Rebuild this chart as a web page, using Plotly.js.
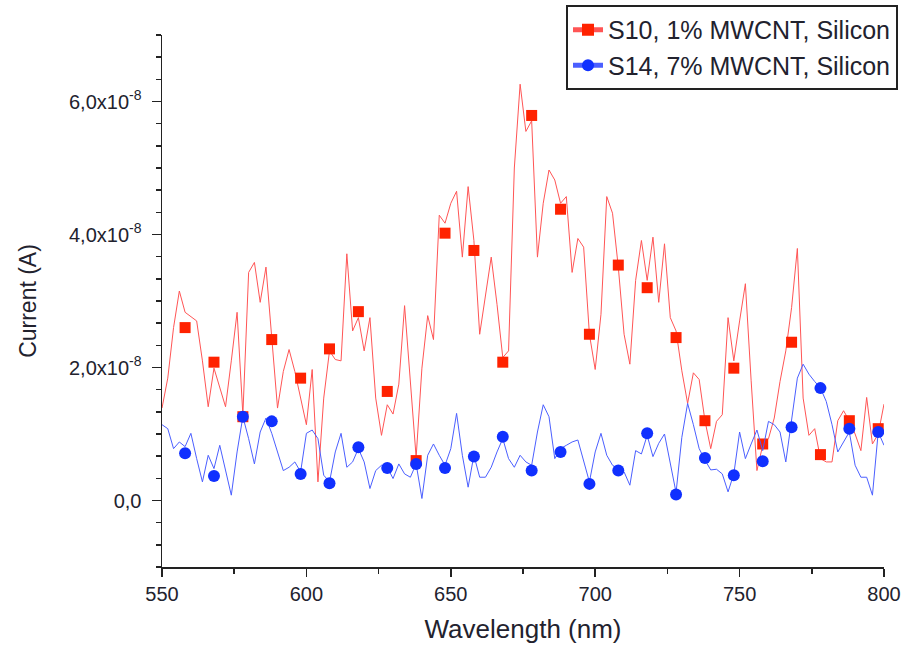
<!DOCTYPE html>
<html>
<head>
<meta charset="utf-8">
<script src="https://cdn.plot.ly/plotly-3.0.1.min.js"></script>
<style>html,body{margin:0;padding:0;background:#fff;}#chart{width:903px;height:651px;}</style>
</head>
<body>
<div id="chart"></div>
<script>
// Wavelength grid of the continuous traces (nm)
const wavelength = [
  550,552,554,556,558,560,562,564,566,568,
  570,572,574,576,578,580,582,584,586,588,
  590,592,594,596,598,600,602,604,606,608,
  610,612,614,616,618,620,622,624,626,628,
  630,632,634,636,638,640,642,644,646,648,
  650,652,654,656,658,660,662,664,666,668,
  670,672,674,676,678,680,682,684,686,688,
  690,692,694,696,698,700,702,704,706,708,
  710,712,714,716,718,720,722,724,726,728,
  730,732,734,736,738,740,742,744,746,748,
  750,752,754,756,758,760,762,764,766,768,
  770,772,774,776,778,780,782,784,786,788,
  790,792,794,796,798,800
];
// Current in units of 1e-8 A
const s10Line = [
  1.39,1.84,2.60,3.15,2.83,2.76,2.70,2.10,1.41,1.99,
  1.69,1.41,2.10,2.83,1.29,3.43,3.58,2.98,3.51,2.45,
  1.39,1.94,2.27,1.94,1.54,1.14,1.97,0.28,1.54,2.25,
  2.12,2.10,3.71,2.55,2.75,2.25,2.75,1.54,0.98,1.44,
  1.30,1.75,2.93,1.84,0.65,1.99,2.78,2.42,4.29,4.17,
  4.47,4.65,3.66,4.72,3.91,2.50,3.05,3.66,2.95,2.15,
  2.25,5.00,6.26,5.55,5.71,3.66,4.47,4.97,4.82,4.47,
  4.57,3.43,3.94,3.81,2.50,1.97,2.80,4.57,4.32,3.51,
  2.50,2.05,3.31,3.91,3.31,3.96,2.98,3.86,2.75,2.55,
  1.95,1.46,1.92,1.82,1.20,0.78,1.19,1.29,2.75,2.10,
  2.70,3.26,1.80,0.45,0.83,0.93,1.24,1.79,2.25,2.90,
  3.79,1.54,0.98,1.08,0.63,0.58,0.58,1.20,1.35,1.20,
  1.00,0.75,1.55,0.85,1.00,1.45
];
const s14Line = [
  1.14,1.08,0.78,0.88,0.81,1.01,0.63,0.28,0.68,0.48,
  0.83,0.43,0.08,0.73,1.26,0.93,0.55,1.03,1.24,1.01,
  0.73,0.45,0.50,0.58,0.43,1.01,1.06,0.93,0.38,0.28,
  0.73,1.01,0.50,0.58,0.78,0.58,0.18,0.45,0.53,0.50,
  0.33,0.55,0.40,0.35,0.55,0.03,0.68,0.85,0.68,0.53,
  0.78,1.31,0.68,0.20,0.68,0.35,0.35,0.50,0.73,0.93,
  0.63,0.50,0.68,0.58,0.53,1.03,1.44,1.26,0.63,0.78,
  0.83,0.88,0.91,0.58,0.28,0.73,1.01,0.68,0.53,0.48,
  0.43,0.23,0.75,0.70,0.98,0.66,0.86,1.00,0.58,0.12,
  0.95,1.46,1.14,0.78,0.61,0.46,0.47,0.40,0.13,0.40,
  1.03,0.63,0.85,1.06,0.75,1.19,1.14,1.03,0.58,1.24,
  1.84,2.05,1.90,1.79,1.69,1.49,1.14,0.73,0.88,1.03,
  0.53,0.35,0.35,0.08,1.03,0.83
];
// Marker series
const markerWavelength = [558,568,578,588,598,608,618,628,638,648,658,668,678,688,698,708,718,728,738,748,758,768,778,788,798];
const s10Markers = [2.60,2.08,1.26,2.42,1.84,2.28,2.84,1.64,0.60,4.02,3.76,2.08,5.79,4.38,2.50,3.54,3.20,2.45,1.20,1.99,0.85,2.38,0.69,1.20,1.08];
const s14Markers = [0.71,0.37,1.26,1.19,0.40,0.26,0.80,0.49,0.55,0.49,0.66,0.96,0.45,0.73,0.25,0.45,1.01,0.09,0.64,0.38,0.59,1.10,1.69,1.08,1.03];

const seriesNames = ['S10, 1% MWCNT, Silicon', 'S14, 7% MWCNT, Silicon'];
const xTickVals = [550,600,650,700,750,800];
const yTickVals = [0,2,4,6];
const yTickText = ['0,0','2,0x10<sup>-8</sup>','4,0x10<sup>-8</sup>','6,0x10<sup>-8</sup>'];

const RED_LINE = 'rgb(255,85,85)', RED_MK = 'rgb(255,34,0)';
const BLUE_LINE = 'rgb(75,95,255)', BLUE_MK = 'rgb(16,48,255)';

const traces = [
  {x: wavelength, y: s10Line, name: seriesNames[0], type:'scatter', mode:'lines+markers',
   line:{color:RED_LINE, width:1}, marker:{symbol:'square', size:0.01, color:RED_MK, line:{width:0}}, hoverinfo:'skip'},
  {x: markerWavelength, y: s10Markers, type:'scatter', mode:'markers', showlegend:false,
   marker:{symbol:'square', size:11, color:RED_MK, line:{width:0}}},
  {x: wavelength, y: s14Line, name: seriesNames[1], type:'scatter', mode:'lines+markers',
   line:{color:BLUE_LINE, width:1}, marker:{symbol:'circle', size:0.01, color:BLUE_MK, line:{width:0}}, hoverinfo:'skip'},
  {x: markerWavelength, y: s14Markers, type:'scatter', mode:'markers', showlegend:false,
   marker:{symbol:'circle', size:12, color:BLUE_MK, line:{width:0}}}
];

const axisColor = '#222222';
const textColor = '#22222e';
const layout = {
  width: 903, height: 651,
  margin: {l:162, r:19, t:35, b:84, autoexpand:false},
  paper_bgcolor:'#ffffff', plot_bgcolor:'#ffffff',
  font: {family:'"Liberation Sans", Arial, sans-serif', color:textColor, size:20},
  showlegend: true,
  legend: {x:1.0194, xanchor:'right', y:1.0564, yanchor:'top',
    bgcolor:'#ffffff', bordercolor:'#222', borderwidth:2, font:{size:25, color:textColor},
    itemsizing:'constant', tracegroupgap:0},
  xaxis: {
    range:[550,800], showline:true, linecolor:axisColor, linewidth:1.5, mirror:false,
    showgrid:false, zeroline:false, tickmode:'array', tickvals:xTickVals,
    ticks:'outside', ticklen:8, tickwidth:1.5, tickcolor:axisColor,
    minor:{dtick:25, tick0:550, ticks:'outside', ticklen:5, tickwidth:1.5, tickcolor:axisColor, showgrid:false},
    tickfont:{size:20},
    title:{text:'Wavelength (nm)', font:{size:26}, standoff:16}
  },
  yaxis: {
    range:[-1,7], showline:true, linecolor:axisColor, linewidth:1.5, mirror:false,
    showgrid:false, zeroline:false, tickmode:'array', tickvals:yTickVals, ticktext:yTickText,
    ticks:'outside', ticklen:9, tickwidth:1.5, tickcolor:axisColor, ticklabelstandoff:6,
    minor:{dtick:1/3, tick0:0, ticks:'outside', ticklen:5, tickwidth:1.5, tickcolor:axisColor, showgrid:false},
    tickfont:{size:20},
    title:{text:'Current (A)', font:{size:23}, standoff:26}
  }
};

Plotly.newPlot('chart', traces, layout, {staticPlot:true, displayModeBar:false});
</script>
</body>
</html>
